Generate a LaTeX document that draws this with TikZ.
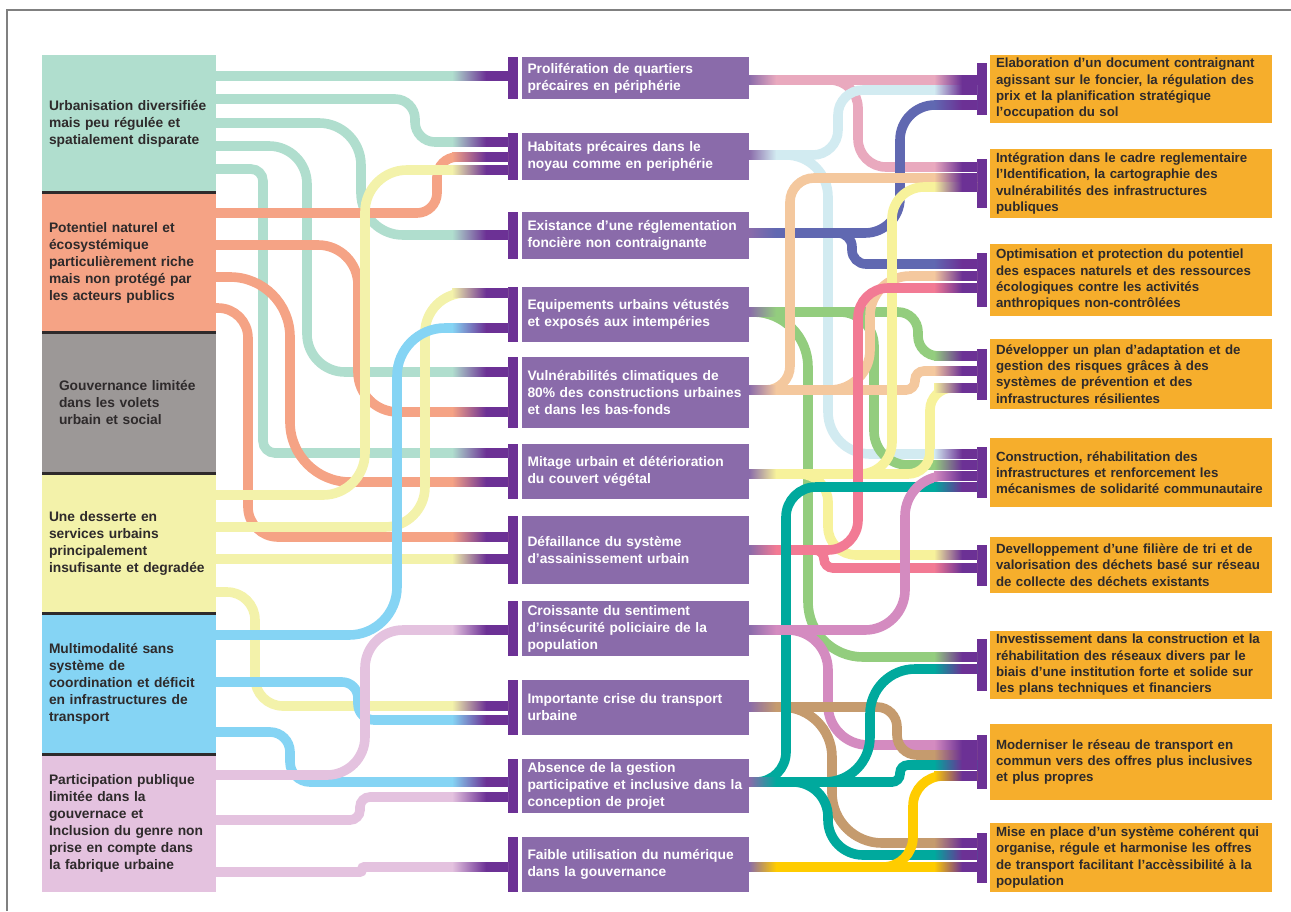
\documentclass[tikz,border=0pt]{standalone}
\usepackage{fontspec}
\setmainfont{Liberation Sans}
\usetikzlibrary{positioning}

\definecolor{cMint}{HTML}{B0DECE}
\definecolor{cSalm}{HTML}{F5A385}
\definecolor{cGray}{HTML}{9C9897}
\definecolor{cYel}{HTML}{F3F2AA}
\definecolor{cBlue}{HTML}{85D4F4}
\definecolor{cPink}{HTML}{E4C2DF}
\definecolor{cMid}{HTML}{8A6BAA}
\definecolor{cBar}{HTML}{6C3195}
\definecolor{cAct}{HTML}{F6AE2C}
\definecolor{cTxt}{HTML}{2E2A2B}
\definecolor{kRose}{HTML}{E9A9BE}
\definecolor{kSky}{HTML}{D2EBF1}
\definecolor{kIndigo}{HTML}{6068B1}
\definecolor{kGreen}{HTML}{93CD7E}
\definecolor{kPeach}{HTML}{F4C89E}
\definecolor{kLemon}{HTML}{F7F29B}
\definecolor{kRed}{HTML}{F27A94}
\definecolor{kViolet}{HTML}{D48BC0}
\definecolor{kTan}{HTML}{C59B6E}
\definecolor{kTeal}{HTML}{00A99D}
\definecolor{kGold}{HTML}{FFCC00}

\newcommand\lfnt{\fontsize{13.8}{17}\selectfont\bfseries}
\newcommand\rfnt{\fontsize{13.3}{16.3}\selectfont\bfseries}
% fades at the ends of the links
\newcommand\infade[2]{\shade[left color=#1,right color=cBar] (452,#2-4.8) rectangle (486,#2+4.8);
  \fill[cBar] (485.5,#2-4.8) rectangle (508,#2+4.8);}
\newcommand\outfade[2]{\shade[left color=cMid,right color=#1] (749,#2-4.8) rectangle (776,#2+4.8);}
\newcommand\barfade[2]{\shade[left color=#1,right color=cBar] (934,#2-4.8) rectangle (962,#2+4.8);
  \fill[cBar] (961.5,#2-4.8) rectangle (977,#2+4.8);}

\begin{document}
\begin{tikzpicture}[x=1pt,y=-1pt,
  src/.style={anchor=north west,outer sep=0pt,minimum width=174pt,text width=160pt,inner xsep=7pt,align=left,font=\lfnt,text=cTxt},
  enj/.style={anchor=north west,outer sep=0pt,fill=cMid,minimum width=227pt,text width=216pt,inner xsep=5.5pt,align=left,font=\lfnt,text=white},
  act/.style={anchor=north west,outer sep=0pt,fill=cAct,minimum width=282pt,text width=270pt,inner xsep=6pt,align=left,font=\rfnt,text=cTxt},
  bar/.style={fill=cBar,outer sep=0pt,minimum width=10pt,inner sep=0pt},
  lk/.style={line width=9.6pt,rounded corners=#1},lk/.default=1pt]

\useasboundingbox (0,0) rectangle (1291,911);
\draw[gray,line width=1.4pt] (7,911) -- (7,10) -- (1291,10);

% causes
\node[src,fill=cMint,minimum height=137.5pt] (src1) at (42,55) {Urbanisation diversifiée\\mais peu régulée et\\spatialement disparate};
\node[src,fill=cSalm,minimum height=140pt] (src2) at (src1.south west) {Potentiel naturel et\\écosystémique\\particulièrement riche\\mais non protégé par\\les acteurs publics};
\node[src,fill=cGray,minimum height=141pt,text width=140pt] (src3) at (src2.south west) {Gouvernance limitée\\dans les volets\\urbain et social};
\node[src,fill=cYel,minimum height=140pt] (src4) at (src3.south west) {Une desserte en\\services urbains\\principalement\\insufisante et degradée};
\node[src,fill=cBlue,minimum height=141pt] (src5) at (src4.south west) {Multimodalité sans\\système de\\coordination et déficit\\en infrastructures de\\transport};
\node[src,fill=cPink,minimum height=137.5pt] (src6) at (src5.south west) {Participation publique\\limitée dans la\\gouvernace et\\Inclusion du genre non\\prise en compte dans\\la fabrique urbaine};
\foreach \n in {1,...,5}
  \draw[line width=3.2pt,cTxt] (src\n.south west) -- (src\n.south east);

% issues
\node[enj,minimum height=42pt] (enj1) at (522,57) {Prolifération de quartiers\\précaires en périphérie};
\node[enj,minimum height=47pt] (enj2) at (522,133) {Habitats précaires dans le\\noyau comme en periphérie};
\node[enj,minimum height=47pt] (enj3) at (522,212) {Existance d’une réglementation\\foncière non contraignante};
\node[enj,minimum height=55pt] (enj4) at (522,287) {Equipements urbains vétustés\\et exposés aux intempéries};
\node[enj,minimum height=71pt] (enj5) at (522,357) {Vulnérabilités climatiques de\\80\% des constructions urbaines\\et dans les bas-fonds};
\node[enj,minimum height=55pt] (enj6) at (522,444) {Mitage urbain et détérioration\\du couvert végétal};
\node[enj,minimum height=68pt] (enj7) at (522,516) {Défaillance du système\\d’assainissement urbain};
\node[enj,minimum height=55pt] (enj8) at (522,601) {Croissante du sentiment\\d’insécurité policiaire de la\\population};
\node[enj,minimum height=55pt] (enj9) at (522,680) {Importante crise du transport\\urbaine};
\node[enj,minimum height=54pt] (enj10) at (522,759) {Absence de la gestion\\participative et inclusive dans la\\conception de projet};
\node[enj,minimum height=55pt] (enj11) at (522,837) {Faible utilisation du numérique\\dans la gouvernance};
\foreach \n/\h in {1/42,2/47,3/47,4/55,5/71,6/55,7/68,8/55,9/55,10/54,11/55}
  \node[bar,minimum height=\h pt,left=4pt of enj\n] (enj\n b) {};

% actions
\node[act,minimum height=68pt] (act1) at (990,55) {Elaboration d’un document contraignant\\agissant sur le foncier, la régulation des\\prix et la planification stratégique\\l’occupation du sol};
\node[act,minimum height=69pt] (act2) at (990,149) {Intégration dans le cadre reglementaire\\l’Identification, la cartographie des\\vulnérabilités des infrastructures\\publiques};
\node[act,minimum height=72pt] (act3) at (990,244) {Optimisation et protection du potentiel\\des espaces naturels et des ressources\\écologiques contre les activités\\anthropiques non-contrôlées};
\node[act,minimum height=70pt] (act4) at (990,339) {Développer un plan d’adaptation et de\\gestion des risques grâces à des\\systèmes de prévention et des\\infrastructures résilientes};
\node[act,minimum height=69pt] (act5) at (990,438) {Construction, réhabilitation des\\infrastructures et renforcement les\\mécanismes de solidarité communautaire};
\node[act,minimum height=56pt] (act6) at (990,537) {Develloppement d’une filière de tri et de\\valorisation des déchets basé sur réseau\\de collecte des déchets existants};
\node[act,minimum height=68pt] (act7) at (990,631) {Investissement dans la construction et la\\réhabilitation des réseaux divers par le\\biais d’une institution forte et solide sur\\les plans techniques et financiers};
\node[act,minimum height=76pt] (act8) at (990,724) {Moderniser le réseau de transport en\\commun vers des offres plus inclusives\\et plus propres};
\node[act,minimum height=69pt] (act9) at (990,823) {Mise en place d’un système cohérent qui\\organise, régule et harmonise les offres\\de transport facilitant l’accèssibilité à la\\population};
\foreach \n/\h in {1/52,2/49,3/54,4/51,5/51,6/41,7/52,8/54,9/50}
  \node[bar,minimum height=\h pt,left=3pt of act\n] (act\n b) {};

% causes -> issues
\draw[lk,cMint] (src1.east |- 0,76) -- (enj1b.west |- 0,76);
\draw[lk=20,cMint] (src1.east |- 0,99) -| (415,142) -- (enj2b.west |- 0,142);
\draw[lk=42,cMint] (src1.east |- 0,123) -| (361,235) -- (enj3b.west |- 0,235);
\draw[lk=38,cMint] (src1.east |- 0,146) -| (307,372) -- (enj5b.west |- 0,372);
\draw[lk=12,cMint] (src1.east |- 0,169) -| (263,453) -- (enj6b.west |- 0,453);
\draw[lk=20,cSalm] (src2.east |- 0,213) -| (437,157) -- (enj2b.west |- 0,157);
\draw[lk=40,cSalm] (src2.east |- 0,245) -| (358,412) -- (enj5b.west |- 0,412);
\draw[lk=60,cSalm] (src2.east |- 0,277) -| (290,482) -- (enj6b.west |- 0,482);
\draw[lk=30,cSalm] (src2.east |- 0,308) -| (248,537) -- (enj7b.west |- 0,537);
\draw[lk=42,cYel] (src4.east |- 0,495) -| (365,170) -- (enj2b.west |- 0,170);
\draw[lk=40,cYel] (src4.east |- 0,527) -| (425,293) -- (enj4b.west |- 0,293);
\draw[lk,cYel] (src4.east |- 0,559) -- (enj7b.west |- 0,559);
\draw[lk=28,cYel] (src4.east |- 0,592) -| (255,706) -- (enj9b.west |- 0,706);
\draw[lk=48,cBlue] (src5.east |- 0,635) -| (397,328) -- (enj4b.west |- 0,328);
\draw[lk=16,cBlue] (src5.east |- 0,682) -| (358,720) -- (enj9b.west |- 0,720);
\draw[lk=20,cBlue] (src5.east |- 0,732) -| (290,782) -- (enj10b.west |- 0,782);
\draw[lk=38,cPink] (src6.east |- 0,775) -| (365,630) -- (enj8b.west |- 0,630);
\draw[lk=10,cPink] (src6.east |- 0,820) -| (360,797) -- (enj10b.west |- 0,797);
\draw[lk=2,cPink] (src6.east |- 0,872) -| (362,867) -- (enj11b.west |- 0,867);
\foreach \col/\yy in {cMint/76,cMint/142,cSalm/157,cYel/170,cMint/235,cYel/293,cBlue/328,
  cMint/372,cSalm/412,cMint/453,cSalm/482,cSalm/537,cYel/559,cPink/630,cYel/706,cBlue/720,
  cBlue/782,cPink/797,cPink/867}
  {\infade{\col}{\yy}}

% issues -> actions
\draw[lk,kRose] (enj1.east |- 0,80) -- (act1b.west |- 0,80);
\draw[lk=28,kRose] (enj1.east |- 0,80) -| (858,167) -- (act2b.west |- 0,167);
\draw[lk=25,kSky] (enj2.east |- 0,155) -| (838,90) -- (act1b.west |- 0,90);
\draw[lk=42,kSky] (enj2.east |- 0,155) -| (828,454) -- (act5b.west |- 0,454);
\draw[lk=35,kIndigo] (enj3.east |- 0,233) -| (900,105) -- (act1b.west |- 0,105);
\draw[lk=14,kIndigo] (enj3.east |- 0,233) -| (852,264) -- (act3b.west |- 0,264);
\draw[lk=55,kGreen] (enj4.east |- 0,312) -| (808,657) -- (act7b.west |- 0,657);
\draw[lk=34,kGreen] (enj4.east |- 0,312) -| (874,465) -- (act5b.west |- 0,465);
\draw[lk=20,kGreen] (enj4.east |- 0,312) -| (918,356) -- (act4b.west |- 0,356);
\draw[lk=24,kPeach] (enj5.east |- 0,390) -| (790,178) -- (act2b.west |- 0,178);
\draw[lk=40,kPeach] (enj5.east |- 0,390) -| (870,276) -- (act3b.west |- 0,276);
\draw[lk=9,kPeach] (enj5.east |- 0,390) -| (915,371) -- (act4b.west |- 0,371);
\draw[lk=32,kLemon] (enj6.east |- 0,474) -| (892,187) -- (act2b.west |- 0,187);
\draw[lk=22,kLemon] (enj6.east |- 0,474) -| (930,388) -- (act4b.west |- 0,388);
\draw[lk=28,kLemon] (enj6.east |- 0,474) -| (828,555) -- (act6b.west |- 0,555);
\draw[lk=30,kRed] (enj7.east |- 0,550) -| (858,288) -- (act3b.west |- 0,288);
\draw[lk=9,kRed] (enj7.east |- 0,550) -| (824,568) -- (act6b.west |- 0,568);
\draw[lk=40,kViolet] (enj8.east |- 0,630) -| (828,745) -- (act8b.west |- 0,745);
\draw[lk=20,kTan] (enj9.east |- 0,707) -| (897,755) -- (act8b.west |- 0,755);
\draw[lk=50,kTan] (enj9.east |- 0,707) -| (832,843) -- (act9b.west |- 0,843);
\draw[lk=30,kTeal] (enj10.east |- 0,782) -| (786,487) -- (act5b.west |- 0,487);
\draw[lk=45,kTeal] (enj10.east |- 0,782) -| (870,669) -- (act7b.west |- 0,669);
\draw[lk=8,kTeal] (enj10.east |- 0,782) -| (900,765) -- (act8b.west |- 0,765);
\draw[lk=35,kTeal] (enj10.east |- 0,782) -| (828,855) -- (act9b.west |- 0,855);
\draw[lk=40,kViolet] (enj8.east |- 0,630) -| (905,476) -- (act5b.west |- 0,476);
\draw[lk,kGold] (enj11.east |- 0,867) -- (act9b.west |- 0,867);
\draw[lk=30,kGold] (enj11.east |- 0,867) -| (913,776) -- (act8b.west |- 0,776);
\foreach \col/\yy in {kRose/80,kSky/155,kIndigo/233,kGreen/312,kPeach/390,kLemon/474,
  kRed/550,kViolet/630,kTan/707,kTeal/782,kGold/867}
  {\outfade{\col}{\yy}}
\foreach \col/\yy in {kRose/80,kSky/90,kIndigo/105,kRose/167,kPeach/178,kLemon/187,
  kIndigo/264,kPeach/276,kRed/288,kGreen/356,kPeach/371,kLemon/388,
  kSky/454,kGreen/465,kViolet/476,kTeal/487,kLemon/555,kRed/568,kGreen/657,kTeal/669,
  kViolet/745,kTan/755,kTeal/765,kGold/776,kTan/843,kTeal/855,kGold/867}
  {\barfade{\col}{\yy}}
\end{tikzpicture}
\end{document}
